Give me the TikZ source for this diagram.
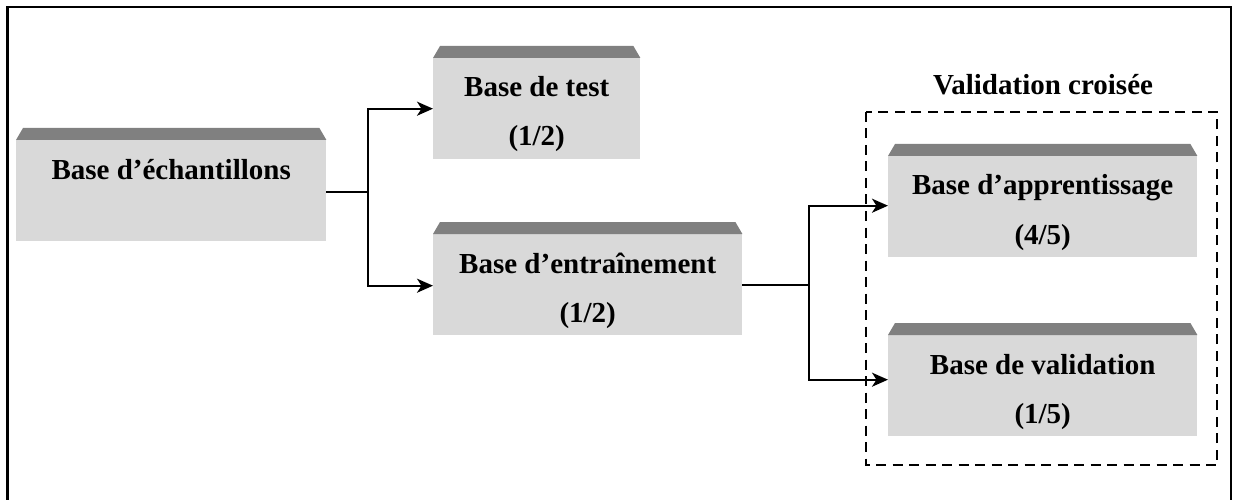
\documentclass[tikz,border=0pt]{standalone}
\usepackage{fontspec}
\setmainfont{Liberation Serif}
\usetikzlibrary{arrows.meta,calc}
\begin{document}
\begin{tikzpicture}[x=1pt,y=-1pt,
  box/.style={rectangle, fill=gray!30, inner sep=0pt, anchor=north west, minimum height=101pt},
  bar/.style={fill=gray},
  lbl/.style={anchor=base, inner sep=0pt, font=\fontsize{29}{35}\selectfont\bfseries},
  conn/.style={line width=2pt},
  arr/.style={conn, -{Stealth[length=16pt,width=14pt,inset=4.5pt]}},
  dashbox/.style={line width=2.4pt, dash pattern=on 10pt off 6.5pt},
  frame/.style={line width=2.2pt}]
\useasboundingbox (0,0) rectangle (1235,500);
\draw[frame] (7.5,510) -- (7.5,7) -- (1231,7) -- (1231,510);

% boxes
\node[box, minimum width=310pt] (b1) at (16,140) {};
\node[box, minimum width=207pt] (bt) at (433,58) {};
\node[box, minimum width=309pt] (be) at (433,234) {};
\node[box, minimum width=309pt] (ba) at (888,156) {};
\node[box, minimum width=309pt] (bv) at (888,335) {};

\foreach \n in {b1,bt,be,ba,bv}
  \fill[bar] (\n.north west) -- ([xshift=7pt,yshift=12pt]\n.north west)
     -- ([xshift=-7pt,yshift=12pt]\n.north east) -- (\n.north east) -- cycle;

% labels
\node[lbl] (l1) at ($(b1.north)+(0,39)$) {Base d’échantillons};
\node[lbl] (lt1) at ($(bt.north)+(0,39)$) {Base de test};
\node[lbl] (lt2) at ($(bt.north)+(0,88)$) {(1/2)};
\node[lbl] (le1) at ($(be.north)+(0,39)$) {Base d’entraînement};
\node[lbl] (le2) at ($(be.north)+(0,88)$) {(1/2)};
\node[lbl] (la1) at ($(ba.north)+(0,39)$) {Base d’apprentissage};
\node[lbl] (la2) at ($(ba.north)+(0,88)$) {(4/5)};
\node[lbl] (lv1) at ($(bv.north)+(0,39)$) {Base de validation};
\node[lbl] (lv2) at ($(bv.north)+(0,88)$) {(1/5)};

% cross-validation frame
\draw[dashbox] (866,112) rectangle (1217,465);
\node[lbl] (vc) at (1043,95) {Validation croisée};

% connectors
\coordinate (j1) at ([xshift=42pt,yshift=-1pt]b1.east);
\coordinate (j2) at ([xshift=67pt]be.east);
\draw[conn] ([yshift=-1pt]b1.east) -- (j1);
\draw[arr] (j1) |- (bt.west);
\draw[arr] (j1) |- ([yshift=-1pt]be.west);
\draw[conn] (be.east) -- (j2);
\draw[arr] (j2) |- ([yshift=1pt]ba.west);
\draw[arr] (j2) |- ([yshift=6pt]bv.west);
\end{tikzpicture}
\end{document}
